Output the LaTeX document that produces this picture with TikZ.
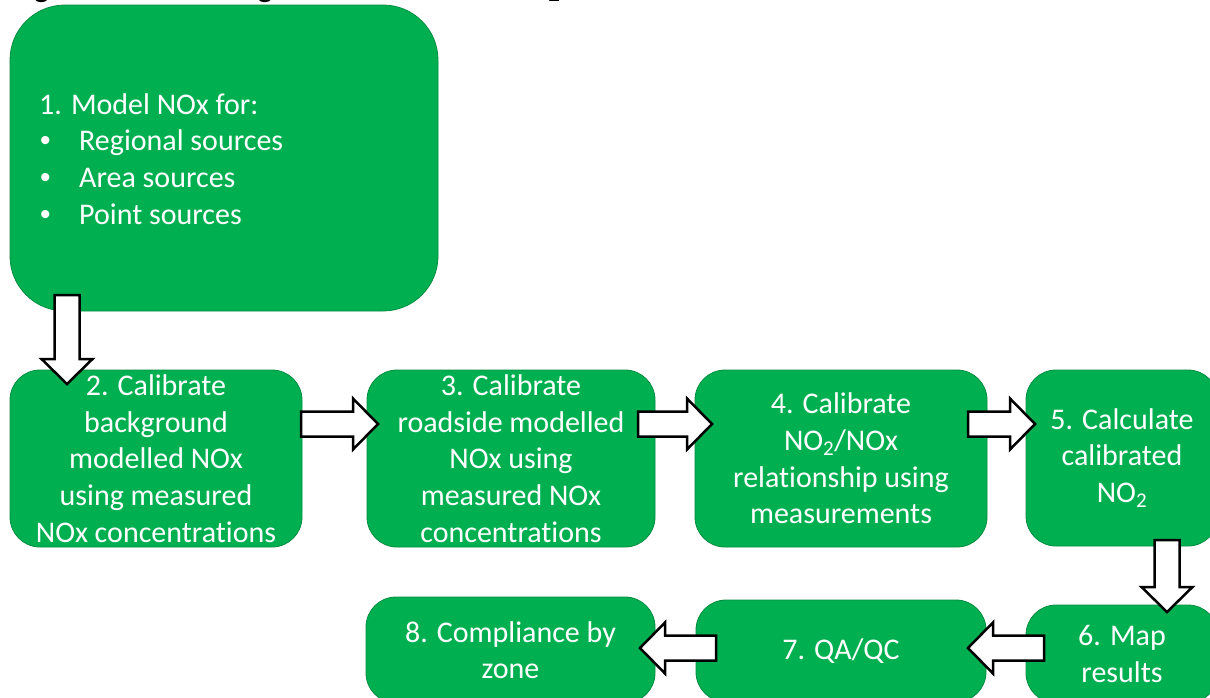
\documentclass[tikz,border=0pt]{standalone}
\usepackage{fontspec}
\setmainfont{Carlito}[Ligatures={NoCommon}]
\newfontfamily\titlefont{Liberation Sans}
\usetikzlibrary{calc}
\definecolor{boxgreen}{RGB}{0,176,80}
\definecolor{boxedge}{RGB}{0,140,64}
\tikzset{
  stepbox/.style={rounded corners=30pt, fill=boxgreen, draw=boxedge, line width=0.8pt,
    text=white, align=center, font=\fontsize{30}{36.6}\selectfont, inner sep=0pt, outer sep=0pt},
  blockarrow/.style={draw=black, fill=white, line width=2.5pt, line join=miter},
  bullettext/.style={anchor=base west, inner sep=0pt, text=white, font=\fontsize{30}{36.6}\selectfont},
}
\newcommand\bulletmark{\makebox[40pt][l]{\titlefont\fontsize{30}{36}\selectfont\hspace{1pt}•}}
\newcommand\blkarrow[2]{%
  \coordinate (bac) at ($(#2)!25pt!(#1)$);
  \draw[blockarrow] ($(#1)!12.5pt!90:(#2)$) -- ($(bac)!12.5pt!90:(#2)$) -- ($(bac)!25.5pt!90:(#2)$)
    -- (#2) -- ($(bac)!25.5pt!-90:(#2)$) -- ($(bac)!12.5pt!-90:(#2)$) -- ($(#1)!12.5pt!-90:(#2)$) -- cycle;}
\begin{document}
\begin{tikzpicture}[x=1pt,y=-1pt]
\useasboundingbox (0,0) rectangle (1210,697);
\clip (0,0) rectangle (1210,697);

\node[anchor=base west, inner sep=0pt, font=\titlefont\bfseries\fontsize{29}{34}\selectfont] (title) at (7,-3.8)
  {Figure 1: Flow diagram for NO\textsubscript{x} and NO\textsubscript{2} model};

% boxes
\node[stepbox, rounded corners=55pt, minimum width=428pt, minimum height=306pt] (b1) at (224,158) {};
\node[bullettext] (l1) at (39,114) {1. Model NOx for:};
\node[bullettext] (l2) at (39,150.7) {\bulletmark Regional sources};
\node[bullettext] (l3) at (39,187.4) {\bulletmark Area sources};
\node[bullettext] (l4) at (39,224) {\bulletmark Point sources};

\node[stepbox, minimum width=292pt, minimum height=177pt] (b2) at (156,458.5)
  {2. Calibrate\\background\\modelled NOx\\using measured\\NOx concentrations};
\node[stepbox, minimum width=288pt, minimum height=177pt] (b3) at (511,458.5)
  {3. Calibrate\\roadside modelled\\NOx using\\measured NOx\\concentrations};
\node[stepbox, minimum width=292pt, minimum height=177pt] (b4) at (841,458.5)
  {4. Calibrate\\NO\textsubscript{2}/NOx\\relationship using\\measurements};
\node[stepbox, minimum width=192pt, minimum height=176pt] (b5) at (1122,458)
  {5. Calculate\\calibrated\\NO\textsubscript{2}};
\node[stepbox, minimum width=192pt, minimum height=98pt] (b6) at (1122,654)
  {6. Map\\results};
\node[stepbox, minimum width=290pt, minimum height=102pt] (b7) at (841,651)
  {7. QA/QC};
\node[stepbox, minimum width=289pt, minimum height=106pt] (b8) at (510.5,650)
  {8. Compliance by\\zone};

% arrow end points
\coordinate (a12s) at ($(b1.south west)+(57,-16)$);
\coordinate (a12e) at ($(b2.north west)+(57,14)$);
\coordinate (a23s) at ($(b2.north east)+(-1,54)$);
\coordinate (a23e) at ($(b3.north west)+(11,54)$);
\coordinate (a34s) at ($(b3.north east)+(-17,54)$);
\coordinate (a34e) at ($(b4.north west)+(17,54)$);
\coordinate (a45s) at ($(b4.north east)+(-19,54)$);
\coordinate (a45e) at ($(b5.north west)+(9,54)$);
\coordinate (a56s) at ($(b5.south west)+(141,-6)$);
\coordinate (a56e) at ($(b6.north west)+(141,7)$);
\coordinate (a67s) at ($(b6.north west)+(18,43)$);
\coordinate (a67e) at ($(b7.north east)+(-18,48)$);
\coordinate (a78s) at ($(b7.north west)+(20,48)$);
\coordinate (a78e) at ($(b8.north east)+(-15,51)$);

\blkarrow{a12s}{a12e}
\blkarrow{a23s}{a23e}
\blkarrow{a34s}{a34e}
\blkarrow{a45s}{a45e}
\blkarrow{a56s}{a56e}
\blkarrow{a67s}{a67e}
\blkarrow{a78s}{a78e}
\end{tikzpicture}
\end{document}
